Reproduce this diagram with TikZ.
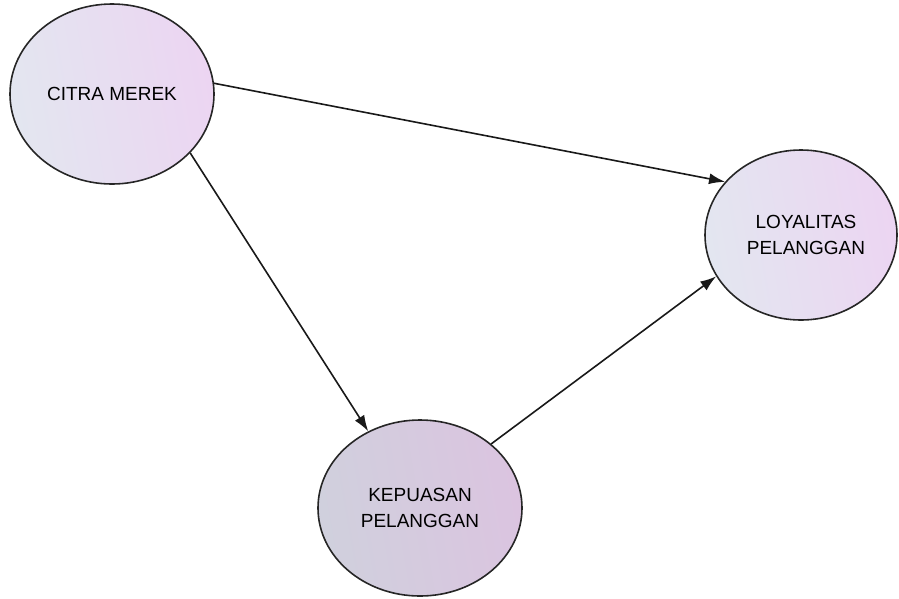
\documentclass[tikz,border=0pt]{standalone}
\usepackage{fontspec}
\setmainfont{Liberation Sans}
\usetikzlibrary{shapes.geometric,arrows.meta}
\definecolor{lightL}{HTML}{E3E6F0}
\definecolor{lightR}{HTML}{ECD5F2}
\definecolor{darkL}{HTML}{D0D0DD}
\definecolor{darkR}{HTML}{DBC4E0}
\tikzset{
  construct/.style={ellipse, draw=black!85, line width=1.6pt, inner sep=0pt,
    align=center, text=black, font=\fontsize{19}{26}\selectfont},
  lightfill/.style={left color=lightL, right color=lightR, shading angle=100},
  darkfill/.style={left color=darkL, right color=darkR, shading angle=100},
  link/.style={line width=1.6pt, draw=black!90, -{Latex[length=16pt,width=11pt]}}
}
\begin{document}
\begin{tikzpicture}[x=1pt,y=-1pt]
\useasboundingbox (0,0) rectangle (899,598);
\node[construct, lightfill, minimum width=204pt, minimum height=180pt] (citra) at (112,94) {CITRA MEREK};
\node[construct, lightfill, minimum width=192pt, minimum height=170pt] (loyal) at (801,235) {\hspace*{10pt}LOYALITAS\\\hspace*{10pt}PELANGGAN};
\node[construct, darkfill, minimum width=204pt, minimum height=176pt] (puas) at (420,508) {KEPUASAN\\PELANGGAN};
\draw[link] (citra.6) -- (loyal.145);
\draw[link] (citra.-37) -- (puas.124);
\draw[link] (puas.42) -- (loyal.206);
\end{tikzpicture}
\end{document}
